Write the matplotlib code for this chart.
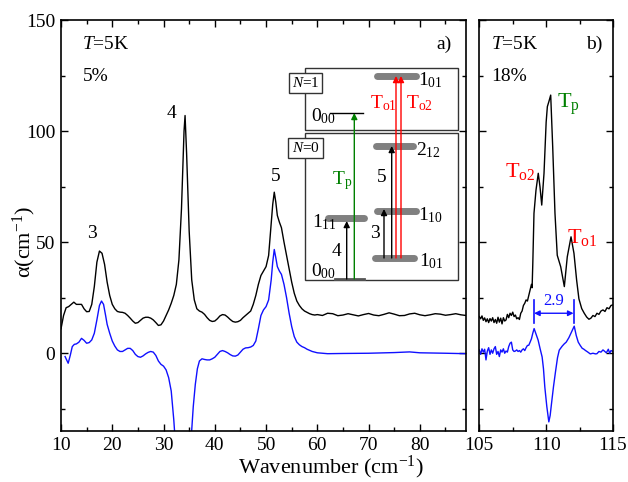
import matplotlib
matplotlib.use("Agg")
import matplotlib.pyplot as plt
from matplotlib.patches import Rectangle
from matplotlib.ticker import MultipleLocator

plt.rcParams['font.family'] = ['Liberation Serif', 'DejaVu Serif']
plt.rcParams['mathtext.fontset'] = 'custom'
plt.rcParams['mathtext.rm'] = 'Liberation Serif'
plt.rcParams['mathtext.it'] = 'Liberation Serif:italic'
plt.rcParams['mathtext.bf'] = 'Liberation Serif:bold'

# ---------------- data: panel a) 5% ----------------
a_black_x = [10.0, 10.5, 11.0, 11.5, 12.0, 12.5, 13.0, 13.5, 14.0, 14.5, 15.0, 15.5, 16.0, 16.5,
             17.0, 17.5, 18.0, 18.5, 19.0, 19.5, 20.0, 20.5, 21.0, 21.5, 22.0, 22.5, 23.0, 23.5,
             24.0, 24.5, 25.0, 25.5, 26.0, 26.5, 27.0, 27.5, 28.0, 28.5, 29.0, 29.5, 30.0, 30.5,
             31.0, 31.5, 32.0, 32.5, 33.0, 33.5, 34.0, 34.2, 34.5, 35.0, 35.5, 36.0, 36.5, 37.0,
             37.5, 38.0, 38.5, 39.0, 39.5, 40.0, 40.5, 41.0, 41.5, 42.0, 42.5, 43.0, 43.5, 44.0,
             44.5, 45.0, 45.5, 46.0, 46.5, 47.0, 47.5, 48.0, 48.5, 49.0, 49.5, 50.0, 50.5, 51.0,
             51.3, 51.6, 51.9, 52.2, 52.6, 53.0, 53.5, 54.0, 54.5, 55.0, 55.5, 56.0, 56.5, 57.0,
             57.5, 58.0, 58.5, 59.0, 59.5, 60.0, 61.0, 62.0, 63.0, 64.0, 65.0, 66.0, 67.0, 68.0,
             69.0, 70.0, 71.0, 72.0, 73.0, 74.0, 75.0, 76.0, 77.0, 78.0, 79.0, 80.0, 81.0, 82.0,
             83.0, 84.0, 85.0, 86.0, 87.0, 88.0, 89.0]
a_black_y = [11, 17, 20.5, 21, 22, 23, 22, 22, 22, 20, 18.7, 18.8, 22, 30,
             41, 46, 45, 40, 32, 26, 22, 20, 18.8, 18.5, 18.4, 18, 17, 15.8,
             14.5, 13.5, 13.8, 14.8, 15.8, 16.2, 16.2, 15.8, 15, 13.8, 12.5, 12.8, 14.5, 17,
             19.5, 22.5, 26, 31, 42, 65, 100, 107, 90, 55, 33, 24, 20, 19,
             18.5, 17.5, 16, 14.8, 14.3, 14.5, 15.5, 16.8, 17.4, 17.2, 16.3, 15.2, 14.3, 14.0,
             14.2, 14.8, 16, 17, 18, 19, 22, 26, 31, 35, 37, 39, 44, 58,
             67, 72.5, 68, 62, 59, 56.5, 50, 44, 38, 32, 27, 23.5, 21.5, 20,
             19, 18.4, 17.8, 17.4, 17.2, 17.4, 17.0, 18.0, 17.8, 16.9, 17.2, 17.8, 17.3, 16.8,
             17.4, 17.9, 17.2, 16.9, 17.5, 18.2, 17.6, 16.9, 17.0, 17.7, 18.0, 17.3, 16.9, 17.3,
             17.8, 17.6, 17.1, 17.4, 17.8, 17.3, 17.0]

a_blue_x = [10.8, 11.0, 11.4, 11.8, 12.2, 12.6, 13.0, 13.5, 14.0, 14.5, 15.0, 15.5, 16.0, 16.5,
            17.0, 17.5, 17.9, 18.3, 18.7, 19.0, 19.5, 20.0, 20.5, 21.0, 21.5, 22.0, 22.5, 23.0,
            23.5, 24.0, 24.5, 25.0, 25.5, 26.0, 26.5, 27.0, 27.5, 28.0, 28.5, 29.0, 29.5, 30.0,
            30.5, 31.0, 31.5, 32.0, 32.3, 33.0, 34.0, 35.0, 35.4, 35.8, 36.2, 36.6, 37.0, 37.5,
            38.0, 38.5, 39.0, 39.5, 40.0, 40.5, 41.0, 41.5, 42.0, 42.5, 43.0, 43.5, 44.0, 44.5,
            45.0, 45.5, 46.0, 46.5, 47.0, 47.5, 48.0, 48.5, 49.0, 49.5, 50.0, 50.5, 51.0, 51.3,
            51.6, 51.9, 52.2, 52.6, 53.0, 53.5, 54.0, 54.5, 55.0, 55.5, 56.0, 56.5, 57.0, 57.5,
            58.0, 59.0, 60.0, 62.0, 65.0, 70.0, 75.0, 78.0, 80.0, 85.0, 89.0]
a_blue_y = [-1.5, -2.5, -4.5, -1, 3, 4, 4.2, 5, 6.7, 5.8, 4.5, 4.8, 6, 9,
            15, 21.5, 23.5, 22, 17, 13, 9, 5.5, 3.2, 1.5, 0.8, 0.8, 1.5, 2.2,
            2.2, 1.2, -0.5, -1.5, -1.8, -1.2, -0.3, 0.4, 0.8, 0.5, -1.0, -3.5, -5, -5.8,
            -7.5, -11, -17, -30, -40, -60, -70, -50, -38, -24, -14, -7, -3.5, -2.5,
            -2.8, -3, -3.0, -2.5, -1.8, -0.5, 0.8, 1.2, 0.8, 0.2, -0.6, -1.2, -1.3, -0.8,
            0.5, 1.8, 2.4, 2.5, 2.8, 3.5, 5.5, 11, 17, 19.5, 21, 24, 33, 41,
            46.7, 43, 39, 37, 35.5, 31, 25, 18, 12, 7.5, 5, 3.8, 3, 2.5,
            1.8, 0.8, 0.2, -0.2, -0.1, 0.0, 0.3, 0.6, 0.2, 0.0, -0.2]

# ---------------- data: panel b) 18% ----------------
b_black_x = [105.0, 105.1, 105.2, 105.3, 105.4, 105.5, 105.6, 105.7, 105.8, 105.9, 106.0, 106.1,
             106.2, 106.3, 106.4, 106.5, 106.6, 106.7, 106.8, 106.9, 107.0, 107.1, 107.2, 107.3,
             107.4, 107.5, 107.6, 107.7, 107.8, 107.9, 108.0, 108.1, 108.2, 108.3, 108.4, 108.5,
             108.6, 108.7, 108.8, 108.9, 108.95, 109.0, 109.09, 109.24, 109.41, 109.54, 109.67,
             109.84, 110.0, 110.09, 110.21, 110.34, 110.49, 110.66, 110.83, 111.09, 111.36,
             111.58, 111.86, 112.08, 112.28, 112.45, 112.66, 112.85, 113.03, 113.2, 113.35,
             113.5, 113.65, 113.8, 113.95, 114.1, 114.25, 114.4, 114.55, 114.7, 114.85, 115.0]
b_black_y = [16.5, 15.5, 16.8, 14.8, 15.9, 14.2, 15.5, 13.8, 15.6, 14.5, 16.0, 13.8,
             15.2, 13.5, 16.2, 14.0, 15.8, 13.2, 16.0, 14.5, 15.0, 17.5, 16.0, 18.0,
             17.0, 18.5, 16.5, 17.2, 15.5, 16.0, 15.2, 18.0, 19.0, 21.5, 22.5, 24.0,
             23.5, 26.0, 28.5, 31.0, 29.5, 40, 63, 73.4, 81, 74.9, 66.7,
             81, 104, 111, 113.4, 116.2, 92.9, 63, 44.1, 38.9, 30,
             43.4, 52.4, 45, 32.9, 24.5, 20.1, 18.0, 16.3, 15.3, 15.8,
             17.0, 16.5, 18.0, 17.5, 19.0, 19.5, 18.8, 20.5, 20.0, 21.5, 21.8]

b_blue_x = [105.0, 105.1, 105.2, 105.3, 105.4, 105.5, 105.6, 105.7, 105.8, 105.9, 106.0, 106.1,
            106.2, 106.3, 106.4, 106.5, 106.6, 106.7, 106.8, 106.9, 107.0, 107.1, 107.2, 107.3,
            107.4, 107.5, 107.6, 107.7, 107.8, 107.9, 108.0, 108.1, 108.2, 108.3, 108.4, 108.5,
            108.6, 108.7, 108.8, 108.9, 109.0, 109.1, 109.25, 109.4, 109.55, 109.7, 109.8, 109.9,
            110.05, 110.2, 110.3, 110.4, 110.55, 110.7, 110.85, 110.98, 111.2, 111.35, 111.5,
            111.7, 111.9, 112.1, 112.25, 112.4, 112.55, 112.7, 112.8, 112.95, 113.1, 113.3,
            113.5, 113.7, 113.8, 113.95, 114.1, 114.25, 114.35, 114.5, 114.65, 114.75, 114.85, 115.0]
b_blue_y = [1.5, -0.5, 2.0, 0.5, 1.8, -3.0, 1.0, 2.5, -0.5, 1.5, 0.0, 2.0,
            3.0, -0.5, 0.8, -1.5, 1.5, 0.5, 2.0, 0.0, 1.0, 0.5, 3.0, 4.5,
            5.0, 1.5, 0.8, 1.0, 1.5, 0.8, 1.2, 0.5, 1.5, 2.0, 1.2, 2.5,
            3.5, 3.6, 5.0, 6.5, 9.0, 11.1, 8.5, 5.9, 2.0, -1.7, -7, -15.2,
            -24, -30.9, -28, -22.7, -15, -8.3, -2, 1.4, 3.2, 4.2, 5.0,
            7.0, 9.6, 12.2, 8.0, 5.0, 3.5, 2.2, 1.9, 1.2, 0.6, -0.3,
            0.0, -0.3, -0.2, 0.8, 0.5, 1.5, 1.0, 0.2, 1.8, 0.0, 1.2, 0.8]

splitting_x = [109.1, 112.05]
splitting_label = "2.9"

a_xticks = [10, 20, 30, 40, 50, 60, 70, 80]
b_xticks = [105, 110, 115]
yticks = [0, 50, 100, 150]

# ---------------- figure ----------------
W, H = 628, 482
fig = plt.figure(figsize=(W / 100, H / 100), dpi=100)

def px_rect(l, r, b, t):
    return [l / W, 1 - b / H, (r - l) / W, (b - t) / H]

axa = fig.add_axes(px_rect(61, 466, 431, 20))
axb = fig.add_axes(px_rect(479.3, 613, 431, 20))

FS = 14
for ax in (axa, axb):
    ax.set_ylim(-35, 150)
    ax.tick_params(which='both', direction='in', top=True, right=True, labelsize=FS, pad=4)
    ax.tick_params(which='major', length=5, width=1)
    ax.tick_params(which='minor', length=3, width=1)
    for s in ax.spines.values():
        s.set_linewidth(1.2)
    ax.yaxis.set_major_locator(MultipleLocator(50))
    ax.yaxis.set_minor_locator(MultipleLocator(25))

axa.plot(a_black_x, a_black_y, color='black', lw=1.0)
axa.plot(a_blue_x, a_blue_y, color='#1010ff', lw=1.0)
axa.set_xlim(10, 89)
axa.set_xticks(a_xticks)
axa.xaxis.set_minor_locator(MultipleLocator(5))
axa.set_yticks(yticks)
axa.set_xlabel('Wavenumber (cm$^{\\mathregular{-1}}$)', fontsize=16, labelpad=0)
axa.xaxis.label.set_va('baseline')
axa.xaxis.set_label_coords(0.667, -0.104)
axa.set_ylabel('α(cm$^{\\mathregular{-1}}$)', fontsize=16)
axa.yaxis.set_label_coords(-0.058, 0.46)

axb.plot(b_black_x, b_black_y, color='black', lw=1.0)
axb.plot(b_blue_x, b_blue_y, color='#1010ff', lw=1.0)
axb.set_xlim(105, 115)
axb.set_xticks(b_xticks)
axb.xaxis.set_minor_locator(MultipleLocator(2.5))
axb.set_yticks(yticks)
axb.set_yticklabels([])

# panel texts
axa.text(0.053, 0.94, '$\\mathit{T}$=5K', transform=axa.transAxes, fontsize=FS, va='center')
axa.text(0.053, 0.862, '5%', transform=axa.transAxes, fontsize=FS, va='center')
axa.text(0.965, 0.94, 'a)', transform=axa.transAxes, fontsize=FS, va='center', ha='right')
axb.text(0.09, 0.94, '$\\mathit{T}$=5K', transform=axb.transAxes, fontsize=FS, va='center')
axb.text(0.09, 0.862, '18%', transform=axb.transAxes, fontsize=FS, va='center')
axb.text(0.92, 0.94, 'b)', transform=axb.transAxes, fontsize=FS, va='center', ha='right')

# peak labels
axa.text(16.0, 54, '3', fontsize=FS, ha='center', va='center')
axa.text(31.6, 108, '4', fontsize=FS, ha='center', va='center')
axa.text(51.8, 79.5, '5', fontsize=FS, ha='center', va='center')

axb.text(110.8, 112, 'T$_\\mathregular{p}$', color='green', fontsize=16, ha='left', va='center')
axb.text(108.05, 82, 'T$_\\mathregular{o2}$', color='red', fontsize=16, ha='center', va='center')
axb.text(112.7, 52, 'T$_\\mathregular{o1}$', color='red', fontsize=16, ha='center', va='center')

# splitting arrow
axb.annotate('', xy=(splitting_x[0], 18), xytext=(splitting_x[1], 18),
             arrowprops=dict(arrowstyle='<|-|>', color='#1010ff', lw=1.0, mutation_scale=8,
                             shrinkA=0, shrinkB=0))
for xv in splitting_x:
    axb.plot([xv, xv], [13.5, 24], color='#1010ff', lw=1.2)
axb.text(sum(splitting_x) / 2, 20, splitting_label, color='#1010ff', fontsize=12,
         ha='center', va='bottom')

# ---------------- energy-level inset (pixel coordinates) ----------------
ov = fig.add_axes([0, 0, 1, 1], zorder=5)
ov.set_xlim(0, W)
ov.set_ylim(H, 0)
ov.axis('off')
ov.patch.set_alpha(0)

for (l, r, t, b) in [(305, 458, 67.5, 130), (304.5, 458, 133, 280)]:
    ov.add_patch(Rectangle((l, t), r - l, b - t, facecolor='white', edgecolor='#333333', lw=1.0))

for y0, lab in [(83, '$\\mathit{N}$=1'), (148, '$\\mathit{N}$=0')]:
    ov.text(305.5, y0, lab, fontsize=11, ha='center', va='center',
            bbox=dict(boxstyle='square,pad=0.2', facecolor='white', edgecolor='#333333', lw=1.0))

grey = '#808080'
levels = [(377, 416, 76), (376, 413, 146), (377, 416, 211), (375, 414, 258), (328, 364, 218)]
for x0, x1, y0 in levels:
    ov.plot([x0, x1], [y0, y0], color=grey, lw=5, solid_capstyle='round')
ov.plot([330, 363], [113, 113], color='black', lw=1.0)
ov.plot([335, 364], [279, 279], color='#555555', lw=2.0)

def arrow(x, y0, y1, color, lw=1.0):
    ov.annotate('', xy=(x, y1), xytext=(x, y0),
                arrowprops=dict(arrowstyle='-|>', color=color, lw=lw, mutation_scale=9,
                                shrinkA=0, shrinkB=0))

arrow(346.7, 279, 221, 'black')
arrow(354.3, 279, 113, 'green')
arrow(384, 258, 209, 'black')
arrow(391.7, 258, 146, 'black')
arrow(396, 258, 76, 'red')
arrow(401, 258, 76, 'red')

LF = 14
ov.text(418, 80, '1$_{\\mathregular{01}}$', fontsize=LF, ha='left', va='center')
ov.text(336, 116, '0$_{\\mathregular{00}}$', fontsize=LF, ha='right', va='center')
ov.text(416, 150, '2$_{\\mathregular{12}}$', fontsize=LF, ha='left', va='center')
ov.text(418, 215, '1$_{\\mathregular{10}}$', fontsize=LF, ha='left', va='center')
ov.text(419, 261, '1$_{\\mathregular{01}}$', fontsize=LF, ha='left', va='center')
ov.text(337, 222, '1$_{\\mathregular{11}}$', fontsize=LF, ha='right', va='center')
ov.text(336, 271, '0$_{\\mathregular{00}}$', fontsize=LF, ha='right', va='center')
ov.text(337, 252, '4', fontsize=LF, ha='center', va='center')
ov.text(375, 234, '3', fontsize=LF, ha='center', va='center')
ov.text(382, 178, '5', fontsize=LF, ha='center', va='center')
ov.text(342, 181, 'T$_\\mathregular{p}$', color='green', fontsize=LF, ha='center', va='center')
ov.text(383, 103, 'T$_\\mathregular{o1}$', color='red', fontsize=LF, ha='center', va='center')
ov.text(420, 103, 'T$_\\mathregular{o2}$', color='red', fontsize=LF, ha='center', va='center')

fig.savefig('out.png', dpi=100)
